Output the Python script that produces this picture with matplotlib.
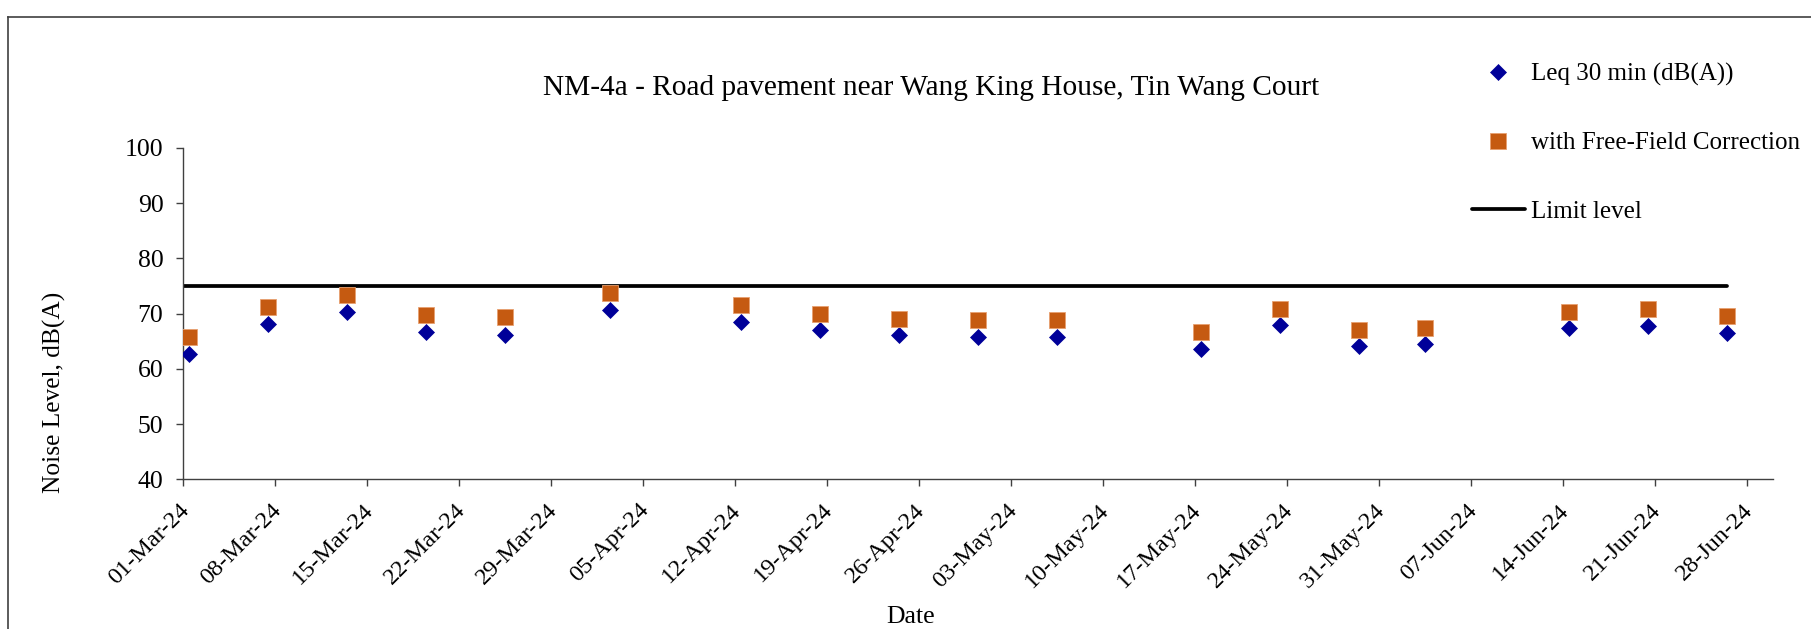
import pandas as pd
import matplotlib.pyplot as plt
from matplotlib.lines import Line2D
from matplotlib.transforms import ScaledTranslation

plt.rcParams['font.family'] = ['Liberation Serif', 'DejaVu Serif']
plt.rcParams['font.size'] = 18

dates = ['2024-03-01', '2024-03-07', '2024-03-13', '2024-03-19', '2024-03-25',
         '2024-04-02', '2024-04-12', '2024-04-18', '2024-04-24', '2024-04-30',
         '2024-05-06', '2024-05-17', '2024-05-23', '2024-05-29', '2024-06-03',
         '2024-06-14', '2024-06-20', '2024-06-26']
leq = [62.6, 68.1, 70.2, 66.7, 66.2, 70.6, 68.5, 67.0, 66.1, 65.8,
       65.7, 63.6, 67.9, 64.1, 64.4, 67.3, 67.7, 66.4]
leq_ff = [65.7, 71.2, 73.3, 69.7, 69.3, 73.7, 71.5, 70.0, 69.1, 68.9,
          68.8, 66.7, 70.9, 67.1, 67.4, 70.3, 70.8, 69.5]
limit = 75
tick_dates = pd.date_range('2024-03-01', '2024-06-28', freq='7D')
title = 'NM-4a - Road pavement near Wang King House, Tin Wang Court'

# points sit in the middle of each day (Excel date axis)
x = pd.to_datetime(dates) + pd.Timedelta(hours=12)
x_start = pd.Timestamp('2024-03-01')
x_end = pd.Timestamp('2024-06-30')

fig = plt.figure(figsize=(18.11, 6.29), dpi=100)
ax = fig.add_axes([0.1010, 0.2380, 0.8779, 0.5270])

ax.plot([x_start, x[-1]], [limit, limit], color='black', lw=2.7,
        solid_capstyle='round', label='Limit level', zorder=2)
ax.plot(x, leq, 'D', color='#000099', ms=8.3, mec='#000099', mew=0.5,
        label='Leq 30 min (dB(A))', zorder=3)
ax.plot(x, leq_ff, 's', color='#C55A11', ms=11.5, mec='#E8A070', mew=0.6,
        label='with Free-Field Correction', zorder=3)

ax.set_xlim(x_start, x_end)
ax.set_ylim(40, 100)
ax.set_yticks(range(40, 101, 10))
ax.set_xticks(tick_dates)
ax.set_xticklabels([d.strftime('%d-%b-%y') for d in tick_dates])

for s in ['top', 'right']:
    ax.spines[s].set_visible(False)
for s in ['left', 'bottom']:
    ax.spines[s].set_color('#404040')
    ax.spines[s].set_linewidth(1.0)
ax.tick_params(axis='both', direction='out', length=5, width=1.0,
               color='#404040')
ax.tick_params(axis='y', pad=9, labelsize=18.5)
ax.tick_params(axis='x', pad=15, labelsize=17.5)

offset = ScaledTranslation(3 / 100, 0, fig.dpi_scale_trans)
for lab in ax.get_xticklabels():
    lab.set_rotation(45)
    lab.set_ha('right')
    lab.set_va('center')
    lab.set_rotation_mode('anchor')
    lab.set_transform(lab.get_transform() + offset)

fig.text(931 / 1811, 1 - 88 / 629, title, ha='center', va='center', fontsize=21.2)
fig.text(54 / 1811, 1 - 392 / 629, 'Noise Level, dB(A)', rotation=90,
         ha='center', va='center', fontsize=18.3)
fig.text(911 / 1811, 1 - 617 / 629, 'Date', ha='center', va='center', fontsize=18.5)

h, l = ax.get_legend_handles_labels()
order = [1, 2, 0]
fig.legend([h[i] for i in order], [l[i] for i in order], loc='upper left',
           bbox_to_anchor=(1472 / 1811, 1 - 63 / 629), frameon=False,
           fontsize=18, handlelength=2.1, handletextpad=0.25,
           labelspacing=1.83, borderpad=0, borderaxespad=0)

# chart area border
fig.add_artist(Line2D([8 / 1811, 8 / 1811], [0, 1 - 17 / 629],
                      transform=fig.transFigure, color='#404040', lw=1.2))
fig.add_artist(Line2D([8 / 1811, 1], [1 - 17 / 629, 1 - 17 / 629],
                      transform=fig.transFigure, color='#404040', lw=1.2))

fig.savefig('out.png', dpi=100)
